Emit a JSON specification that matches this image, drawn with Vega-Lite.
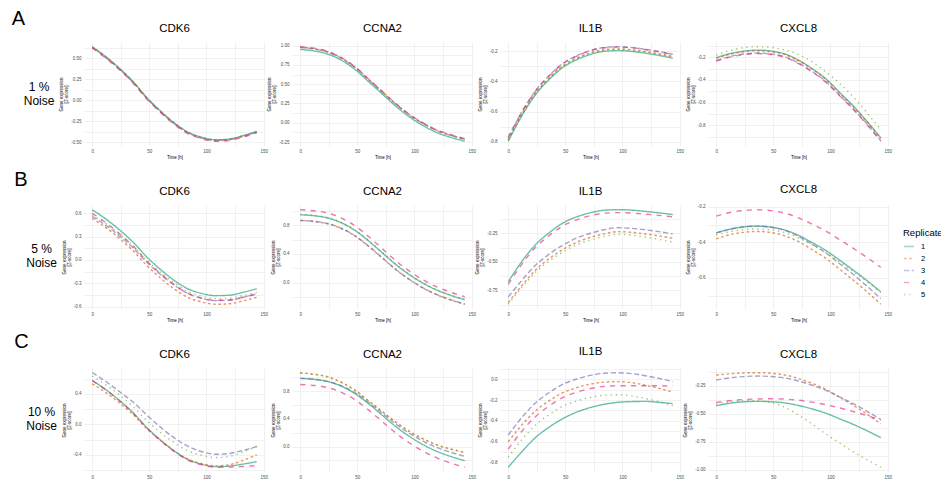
{
  "$schema": "https://vega.github.io/schema/vega-lite/v6.json",
  "padding": {"left": 11, "top": 8, "right": 0, "bottom": 0},
  "background": "white",
  "config": {
    "font": "Liberation Sans",
    "view": {"stroke": null},
    "line": {"interpolate": "monotone", "strokeWidth": 1.4, "strokeOpacity": 0.65},
    "axis": {"grid": true, "gridColor": "#EBEBEB", "gridWidth": 0.7, "domain": false, "ticks": false, "tickSize": 0,
             "labelFontSize": 4.5, "labelColor": "#4D4D4D", "labelFlush": false, "labelOverlap": false,
             "titleFontSize": 4.5, "titleFontWeight": "normal", "titleColor": "#000000"},
    "axisX": {"labelPadding": 2, "titlePadding": 1.5},
    "axisY": {"labelPadding": 3, "titlePadding": 2, "titleLineHeight": 5},
    "title": {"fontSize": 11.5, "fontWeight": "normal", "color": "#000000", "baseline": "alphabetic", "offset": 8, "anchor": "middle"}
  },
  "datasets": {
    "A_CDK6": [
      {"rep":1,"t":0,"v":0.64},{"rep":1,"t":12,"v":0.52},{"rep":1,"t":24,"v":0.38},{"rep":1,"t":36,"v":0.22},{"rep":1,"t":48,"v":0.03},{"rep":1,"t":60,"v":-0.13},{"rep":1,"t":72,"v":-0.27},{"rep":1,"t":84,"v":-0.38},{"rep":1,"t":96,"v":-0.44},{"rep":1,"t":108,"v":-0.47},{"rep":1,"t":120,"v":-0.46},{"rep":1,"t":132,"v":-0.42},{"rep":1,"t":144,"v":-0.37},
      {"rep":2,"t":0,"v":0.635},{"rep":2,"t":12,"v":0.515},{"rep":2,"t":24,"v":0.375},{"rep":2,"t":36,"v":0.215},{"rep":2,"t":48,"v":0.025},{"rep":2,"t":60,"v":-0.135},{"rep":2,"t":72,"v":-0.275},{"rep":2,"t":84,"v":-0.385},{"rep":2,"t":96,"v":-0.445},{"rep":2,"t":108,"v":-0.475},{"rep":2,"t":120,"v":-0.465},{"rep":2,"t":132,"v":-0.425},{"rep":2,"t":144,"v":-0.375},
      {"rep":3,"t":0,"v":0.63},{"rep":3,"t":12,"v":0.51},{"rep":3,"t":24,"v":0.37},{"rep":3,"t":36,"v":0.21},{"rep":3,"t":48,"v":0.02},{"rep":3,"t":60,"v":-0.14},{"rep":3,"t":72,"v":-0.28},{"rep":3,"t":84,"v":-0.39},{"rep":3,"t":96,"v":-0.45},{"rep":3,"t":108,"v":-0.48},{"rep":3,"t":120,"v":-0.47},{"rep":3,"t":132,"v":-0.43},{"rep":3,"t":144,"v":-0.38},
      {"rep":4,"t":0,"v":0.625},{"rep":4,"t":12,"v":0.502},{"rep":4,"t":24,"v":0.362},{"rep":4,"t":36,"v":0.202},{"rep":4,"t":48,"v":0.012},{"rep":4,"t":60,"v":-0.148},{"rep":4,"t":72,"v":-0.288},{"rep":4,"t":84,"v":-0.398},{"rep":4,"t":96,"v":-0.458},{"rep":4,"t":108,"v":-0.488},{"rep":4,"t":120,"v":-0.478},{"rep":4,"t":132,"v":-0.438},{"rep":4,"t":144,"v":-0.388},
      {"rep":5,"t":0,"v":0.637},{"rep":5,"t":12,"v":0.517},{"rep":5,"t":24,"v":0.377},{"rep":5,"t":36,"v":0.217},{"rep":5,"t":48,"v":0.027},{"rep":5,"t":60,"v":-0.133},{"rep":5,"t":72,"v":-0.273},{"rep":5,"t":84,"v":-0.383},{"rep":5,"t":96,"v":-0.443},{"rep":5,"t":108,"v":-0.473},{"rep":5,"t":120,"v":-0.463},{"rep":5,"t":132,"v":-0.423},{"rep":5,"t":144,"v":-0.373}
    ],
    "A_CCNA2": [
      {"rep":1,"t":0,"v":0.95},{"rep":1,"t":12,"v":0.93},{"rep":1,"t":24,"v":0.89},{"rep":1,"t":36,"v":0.81},{"rep":1,"t":48,"v":0.69},{"rep":1,"t":60,"v":0.53},{"rep":1,"t":72,"v":0.37},{"rep":1,"t":84,"v":0.21},{"rep":1,"t":96,"v":0.07},{"rep":1,"t":108,"v":-0.04},{"rep":1,"t":120,"v":-0.13},{"rep":1,"t":132,"v":-0.19},{"rep":1,"t":144,"v":-0.24},
      {"rep":2,"t":0,"v":0.98},{"rep":2,"t":12,"v":0.96},{"rep":2,"t":24,"v":0.92},{"rep":2,"t":36,"v":0.84},{"rep":2,"t":48,"v":0.72},{"rep":2,"t":60,"v":0.56},{"rep":2,"t":72,"v":0.4},{"rep":2,"t":84,"v":0.24},{"rep":2,"t":96,"v":0.1},{"rep":2,"t":108,"v":-0.01},{"rep":2,"t":120,"v":-0.1},{"rep":2,"t":132,"v":-0.16},{"rep":2,"t":144,"v":-0.21},
      {"rep":3,"t":0,"v":0.975},{"rep":3,"t":12,"v":0.955},{"rep":3,"t":24,"v":0.915},{"rep":3,"t":36,"v":0.835},{"rep":3,"t":48,"v":0.715},{"rep":3,"t":60,"v":0.555},{"rep":3,"t":72,"v":0.395},{"rep":3,"t":84,"v":0.235},{"rep":3,"t":96,"v":0.095},{"rep":3,"t":108,"v":-0.015},{"rep":3,"t":120,"v":-0.105},{"rep":3,"t":132,"v":-0.165},{"rep":3,"t":144,"v":-0.215},
      {"rep":4,"t":0,"v":0.985},{"rep":4,"t":12,"v":0.965},{"rep":4,"t":24,"v":0.925},{"rep":4,"t":36,"v":0.845},{"rep":4,"t":48,"v":0.725},{"rep":4,"t":60,"v":0.565},{"rep":4,"t":72,"v":0.405},{"rep":4,"t":84,"v":0.245},{"rep":4,"t":96,"v":0.105},{"rep":4,"t":108,"v":-0.005},{"rep":4,"t":120,"v":-0.095},{"rep":4,"t":132,"v":-0.155},{"rep":4,"t":144,"v":-0.205},
      {"rep":5,"t":0,"v":0.978},{"rep":5,"t":12,"v":0.958},{"rep":5,"t":24,"v":0.918},{"rep":5,"t":36,"v":0.838},{"rep":5,"t":48,"v":0.718},{"rep":5,"t":60,"v":0.558},{"rep":5,"t":72,"v":0.398},{"rep":5,"t":84,"v":0.238},{"rep":5,"t":96,"v":0.098},{"rep":5,"t":108,"v":-0.012},{"rep":5,"t":120,"v":-0.102},{"rep":5,"t":132,"v":-0.162},{"rep":5,"t":144,"v":-0.212}
    ],
    "A_IL1B": [
      {"rep":1,"t":0,"v":-0.796},{"rep":1,"t":12,"v":-0.626},{"rep":1,"t":24,"v":-0.486},{"rep":1,"t":36,"v":-0.386},{"rep":1,"t":48,"v":-0.306},{"rep":1,"t":60,"v":-0.256},{"rep":1,"t":72,"v":-0.221},{"rep":1,"t":84,"v":-0.201},{"rep":1,"t":96,"v":-0.196},{"rep":1,"t":108,"v":-0.201},{"rep":1,"t":120,"v":-0.213},{"rep":1,"t":132,"v":-0.228},{"rep":1,"t":144,"v":-0.246},
      {"rep":2,"t":0,"v":-0.785},{"rep":2,"t":12,"v":-0.615},{"rep":2,"t":24,"v":-0.475},{"rep":2,"t":36,"v":-0.375},{"rep":2,"t":48,"v":-0.295},{"rep":2,"t":60,"v":-0.245},{"rep":2,"t":72,"v":-0.21},{"rep":2,"t":84,"v":-0.19},{"rep":2,"t":96,"v":-0.185},{"rep":2,"t":108,"v":-0.19},{"rep":2,"t":120,"v":-0.202},{"rep":2,"t":132,"v":-0.217},{"rep":2,"t":144,"v":-0.235},
      {"rep":3,"t":0,"v":-0.77},{"rep":3,"t":12,"v":-0.6},{"rep":3,"t":24,"v":-0.46},{"rep":3,"t":36,"v":-0.36},{"rep":3,"t":48,"v":-0.28},{"rep":3,"t":60,"v":-0.23},{"rep":3,"t":72,"v":-0.195},{"rep":3,"t":84,"v":-0.175},{"rep":3,"t":96,"v":-0.17},{"rep":3,"t":108,"v":-0.175},{"rep":3,"t":120,"v":-0.187},{"rep":3,"t":132,"v":-0.202},{"rep":3,"t":144,"v":-0.22},
      {"rep":4,"t":0,"v":-0.772},{"rep":4,"t":12,"v":-0.602},{"rep":4,"t":24,"v":-0.462},{"rep":4,"t":36,"v":-0.362},{"rep":4,"t":48,"v":-0.282},{"rep":4,"t":60,"v":-0.232},{"rep":4,"t":72,"v":-0.197},{"rep":4,"t":84,"v":-0.177},{"rep":4,"t":96,"v":-0.172},{"rep":4,"t":108,"v":-0.177},{"rep":4,"t":120,"v":-0.189},{"rep":4,"t":132,"v":-0.204},{"rep":4,"t":144,"v":-0.222},
      {"rep":5,"t":0,"v":-0.788},{"rep":5,"t":12,"v":-0.618},{"rep":5,"t":24,"v":-0.478},{"rep":5,"t":36,"v":-0.378},{"rep":5,"t":48,"v":-0.298},{"rep":5,"t":60,"v":-0.248},{"rep":5,"t":72,"v":-0.213},{"rep":5,"t":84,"v":-0.193},{"rep":5,"t":96,"v":-0.188},{"rep":5,"t":108,"v":-0.193},{"rep":5,"t":120,"v":-0.205},{"rep":5,"t":132,"v":-0.22},{"rep":5,"t":144,"v":-0.238}
    ],
    "A_CXCL8": [
      {"rep":1,"t":0,"v":-0.203},{"rep":1,"t":12,"v":-0.168},{"rep":1,"t":24,"v":-0.146},{"rep":1,"t":36,"v":-0.137},{"rep":1,"t":48,"v":-0.145},{"rep":1,"t":60,"v":-0.17},{"rep":1,"t":72,"v":-0.225},{"rep":1,"t":84,"v":-0.3},{"rep":1,"t":96,"v":-0.39},{"rep":1,"t":108,"v":-0.51},{"rep":1,"t":120,"v":-0.63},{"rep":1,"t":132,"v":-0.765},{"rep":1,"t":144,"v":-0.91},
      {"rep":2,"t":0,"v":-0.208},{"rep":2,"t":12,"v":-0.173},{"rep":2,"t":24,"v":-0.151},{"rep":2,"t":36,"v":-0.142},{"rep":2,"t":48,"v":-0.15},{"rep":2,"t":60,"v":-0.175},{"rep":2,"t":72,"v":-0.23},{"rep":2,"t":84,"v":-0.305},{"rep":2,"t":96,"v":-0.395},{"rep":2,"t":108,"v":-0.515},{"rep":2,"t":120,"v":-0.635},{"rep":2,"t":132,"v":-0.77},{"rep":2,"t":144,"v":-0.915},
      {"rep":3,"t":0,"v":-0.228},{"rep":3,"t":12,"v":-0.193},{"rep":3,"t":24,"v":-0.171},{"rep":3,"t":36,"v":-0.162},{"rep":3,"t":48,"v":-0.17},{"rep":3,"t":60,"v":-0.195},{"rep":3,"t":72,"v":-0.25},{"rep":3,"t":84,"v":-0.325},{"rep":3,"t":96,"v":-0.415},{"rep":3,"t":108,"v":-0.535},{"rep":3,"t":120,"v":-0.655},{"rep":3,"t":132,"v":-0.79},{"rep":3,"t":144,"v":-0.935},
      {"rep":4,"t":0,"v":-0.233},{"rep":4,"t":12,"v":-0.198},{"rep":4,"t":24,"v":-0.176},{"rep":4,"t":36,"v":-0.167},{"rep":4,"t":48,"v":-0.175},{"rep":4,"t":60,"v":-0.2},{"rep":4,"t":72,"v":-0.255},{"rep":4,"t":84,"v":-0.33},{"rep":4,"t":96,"v":-0.42},{"rep":4,"t":108,"v":-0.54},{"rep":4,"t":120,"v":-0.66},{"rep":4,"t":132,"v":-0.795},{"rep":4,"t":144,"v":-0.94},
      {"rep":5,"t":0,"v":-0.18},{"rep":5,"t":12,"v":-0.14},{"rep":5,"t":24,"v":-0.115},{"rep":5,"t":36,"v":-0.107},{"rep":5,"t":48,"v":-0.113},{"rep":5,"t":60,"v":-0.135},{"rep":5,"t":72,"v":-0.175},{"rep":5,"t":84,"v":-0.24},{"rep":5,"t":96,"v":-0.33},{"rep":5,"t":108,"v":-0.43},{"rep":5,"t":120,"v":-0.55},{"rep":5,"t":132,"v":-0.69},{"rep":5,"t":144,"v":-0.838}
    ],
    "B_CDK6": [
      {"rep":1,"t":0,"v":0.645},{"rep":1,"t":12,"v":0.525},{"rep":1,"t":24,"v":0.385},{"rep":1,"t":36,"v":0.225},{"rep":1,"t":48,"v":0.035},{"rep":1,"t":60,"v":-0.125},{"rep":1,"t":72,"v":-0.265},{"rep":1,"t":84,"v":-0.372},{"rep":1,"t":96,"v":-0.43},{"rep":1,"t":108,"v":-0.458},{"rep":1,"t":120,"v":-0.452},{"rep":1,"t":132,"v":-0.415},{"rep":1,"t":144,"v":-0.37},
      {"rep":2,"t":0,"v":0.535},{"rep":2,"t":12,"v":0.415},{"rep":2,"t":24,"v":0.275},{"rep":2,"t":36,"v":0.115},{"rep":2,"t":48,"v":-0.075},{"rep":2,"t":60,"v":-0.235},{"rep":2,"t":72,"v":-0.375},{"rep":2,"t":84,"v":-0.482},{"rep":2,"t":96,"v":-0.54},{"rep":2,"t":108,"v":-0.568},{"rep":2,"t":120,"v":-0.562},{"rep":2,"t":132,"v":-0.525},{"rep":2,"t":144,"v":-0.48},
      {"rep":3,"t":0,"v":0.56},{"rep":3,"t":12,"v":0.444},{"rep":3,"t":24,"v":0.308},{"rep":3,"t":36,"v":0.152},{"rep":3,"t":48,"v":-0.033},{"rep":3,"t":60,"v":-0.189},{"rep":3,"t":72,"v":-0.325},{"rep":3,"t":84,"v":-0.433},{"rep":3,"t":96,"v":-0.492},{"rep":3,"t":108,"v":-0.521},{"rep":3,"t":120,"v":-0.515},{"rep":3,"t":132,"v":-0.479},{"rep":3,"t":144,"v":-0.435},
      {"rep":4,"t":0,"v":0.6},{"rep":4,"t":12,"v":0.478},{"rep":4,"t":24,"v":0.337},{"rep":4,"t":36,"v":0.175},{"rep":4,"t":48,"v":-0.017},{"rep":4,"t":60,"v":-0.178},{"rep":4,"t":72,"v":-0.32},{"rep":4,"t":84,"v":-0.429},{"rep":4,"t":96,"v":-0.489},{"rep":4,"t":108,"v":-0.519},{"rep":4,"t":120,"v":-0.514},{"rep":4,"t":132,"v":-0.478},{"rep":4,"t":144,"v":-0.435},
      {"rep":5,"t":0,"v":0.58},{"rep":5,"t":12,"v":0.466},{"rep":5,"t":24,"v":0.332},{"rep":5,"t":36,"v":0.177},{"rep":5,"t":48,"v":-0.007},{"rep":5,"t":60,"v":-0.161},{"rep":5,"t":72,"v":-0.295},{"rep":5,"t":84,"v":-0.405},{"rep":5,"t":96,"v":-0.465},{"rep":5,"t":108,"v":-0.496},{"rep":5,"t":120,"v":-0.492},{"rep":5,"t":132,"v":-0.458},{"rep":5,"t":144,"v":-0.415}
    ],
    "B_CCNA2": [
      {"rep":1,"t":0,"v":0.947},{"rep":1,"t":12,"v":0.933},{"rep":1,"t":24,"v":0.902},{"rep":1,"t":36,"v":0.834},{"rep":1,"t":48,"v":0.727},{"rep":1,"t":60,"v":0.579},{"rep":1,"t":72,"v":0.413},{"rep":1,"t":84,"v":0.247},{"rep":1,"t":96,"v":0.104},{"rep":1,"t":108,"v":-0.014},{"rep":1,"t":120,"v":-0.109},{"rep":1,"t":132,"v":-0.181},{"rep":1,"t":144,"v":-0.24},
      {"rep":2,"t":0,"v":0.865},{"rep":2,"t":12,"v":0.851},{"rep":2,"t":24,"v":0.821},{"rep":2,"t":36,"v":0.754},{"rep":2,"t":48,"v":0.649},{"rep":2,"t":60,"v":0.503},{"rep":2,"t":72,"v":0.339},{"rep":2,"t":84,"v":0.175},{"rep":2,"t":96,"v":0.035},{"rep":2,"t":108,"v":-0.082},{"rep":2,"t":120,"v":-0.175},{"rep":2,"t":132,"v":-0.246},{"rep":2,"t":144,"v":-0.304},
      {"rep":3,"t":0,"v":0.869},{"rep":3,"t":12,"v":0.855},{"rep":3,"t":24,"v":0.825},{"rep":3,"t":36,"v":0.758},{"rep":3,"t":48,"v":0.653},{"rep":3,"t":60,"v":0.507},{"rep":3,"t":72,"v":0.343},{"rep":3,"t":84,"v":0.179},{"rep":3,"t":96,"v":0.039},{"rep":3,"t":108,"v":-0.078},{"rep":3,"t":120,"v":-0.171},{"rep":3,"t":132,"v":-0.242},{"rep":3,"t":144,"v":-0.3},
      {"rep":4,"t":0,"v":1.017},{"rep":4,"t":12,"v":1.002},{"rep":4,"t":24,"v":0.971},{"rep":4,"t":36,"v":0.901},{"rep":4,"t":48,"v":0.792},{"rep":4,"t":60,"v":0.64},{"rep":4,"t":72,"v":0.47},{"rep":4,"t":84,"v":0.3},{"rep":4,"t":96,"v":0.154},{"rep":4,"t":108,"v":0.032},{"rep":4,"t":120,"v":-0.065},{"rep":4,"t":132,"v":-0.138},{"rep":4,"t":144,"v":-0.199},
      {"rep":5,"t":0,"v":0.952},{"rep":5,"t":12,"v":0.938},{"rep":5,"t":24,"v":0.907},{"rep":5,"t":36,"v":0.839},{"rep":5,"t":48,"v":0.732},{"rep":5,"t":60,"v":0.584},{"rep":5,"t":72,"v":0.418},{"rep":5,"t":84,"v":0.252},{"rep":5,"t":96,"v":0.109},{"rep":5,"t":108,"v":-0.009},{"rep":5,"t":120,"v":-0.104},{"rep":5,"t":132,"v":-0.176},{"rep":5,"t":144,"v":-0.235}
    ],
    "B_IL1B": [
      {"rep":1,"t":0,"v":-0.675},{"rep":1,"t":12,"v":-0.496},{"rep":1,"t":24,"v":-0.348},{"rep":1,"t":36,"v":-0.243},{"rep":1,"t":48,"v":-0.158},{"rep":1,"t":60,"v":-0.105},{"rep":1,"t":72,"v":-0.069},{"rep":1,"t":84,"v":-0.047},{"rep":1,"t":96,"v":-0.042},{"rep":1,"t":108,"v":-0.046},{"rep":1,"t":120,"v":-0.057},{"rep":1,"t":132,"v":-0.07},{"rep":1,"t":144,"v":-0.085},
      {"rep":2,"t":0,"v":-0.857},{"rep":2,"t":12,"v":-0.708},{"rep":2,"t":24,"v":-0.571},{"rep":2,"t":36,"v":-0.471},{"rep":2,"t":48,"v":-0.39},{"rep":2,"t":60,"v":-0.328},{"rep":2,"t":72,"v":-0.285},{"rep":2,"t":84,"v":-0.254},{"rep":2,"t":96,"v":-0.235},{"rep":2,"t":108,"v":-0.241},{"rep":2,"t":120,"v":-0.255},{"rep":2,"t":132,"v":-0.272},{"rep":2,"t":144,"v":-0.293},
      {"rep":3,"t":0,"v":-0.808},{"rep":3,"t":12,"v":-0.662},{"rep":3,"t":24,"v":-0.528},{"rep":3,"t":36,"v":-0.431},{"rep":3,"t":48,"v":-0.352},{"rep":3,"t":60,"v":-0.291},{"rep":3,"t":72,"v":-0.249},{"rep":3,"t":84,"v":-0.218},{"rep":3,"t":96,"v":-0.2},{"rep":3,"t":108,"v":-0.206},{"rep":3,"t":120,"v":-0.219},{"rep":3,"t":132,"v":-0.235},{"rep":3,"t":144,"v":-0.255},
      {"rep":4,"t":0,"v":-0.698},{"rep":4,"t":12,"v":-0.52},{"rep":4,"t":24,"v":-0.372},{"rep":4,"t":36,"v":-0.268},{"rep":4,"t":48,"v":-0.183},{"rep":4,"t":60,"v":-0.131},{"rep":4,"t":72,"v":-0.094},{"rep":4,"t":84,"v":-0.073},{"rep":4,"t":96,"v":-0.068},{"rep":4,"t":108,"v":-0.072},{"rep":4,"t":120,"v":-0.081},{"rep":4,"t":132,"v":-0.092},{"rep":4,"t":144,"v":-0.105},
      {"rep":5,"t":0,"v":-0.872},{"rep":5,"t":12,"v":-0.725},{"rep":5,"t":24,"v":-0.59},{"rep":5,"t":36,"v":-0.492},{"rep":5,"t":48,"v":-0.412},{"rep":5,"t":60,"v":-0.351},{"rep":5,"t":72,"v":-0.308},{"rep":5,"t":84,"v":-0.277},{"rep":5,"t":96,"v":-0.259},{"rep":5,"t":108,"v":-0.266},{"rep":5,"t":120,"v":-0.282},{"rep":5,"t":132,"v":-0.303},{"rep":5,"t":144,"v":-0.328}
    ],
    "B_CXCL8": [
      {"rep":1,"t":0,"v":-0.347},{"rep":1,"t":12,"v":-0.326},{"rep":1,"t":24,"v":-0.313},{"rep":1,"t":36,"v":-0.309},{"rep":1,"t":48,"v":-0.315},{"rep":1,"t":60,"v":-0.331},{"rep":1,"t":72,"v":-0.361},{"rep":1,"t":84,"v":-0.402},{"rep":1,"t":96,"v":-0.446},{"rep":1,"t":108,"v":-0.501},{"rep":1,"t":120,"v":-0.557},{"rep":1,"t":132,"v":-0.616},{"rep":1,"t":144,"v":-0.679},
      {"rep":2,"t":0,"v":-0.381},{"rep":2,"t":12,"v":-0.357},{"rep":2,"t":24,"v":-0.344},{"rep":2,"t":36,"v":-0.339},{"rep":2,"t":48,"v":-0.345},{"rep":2,"t":60,"v":-0.364},{"rep":2,"t":72,"v":-0.396},{"rep":2,"t":84,"v":-0.442},{"rep":2,"t":96,"v":-0.491},{"rep":2,"t":108,"v":-0.552},{"rep":2,"t":120,"v":-0.614},{"rep":2,"t":132,"v":-0.679},{"rep":2,"t":144,"v":-0.749},
      {"rep":3,"t":0,"v":-0.347},{"rep":3,"t":12,"v":-0.327},{"rep":3,"t":24,"v":-0.314},{"rep":3,"t":36,"v":-0.309},{"rep":3,"t":48,"v":-0.315},{"rep":3,"t":60,"v":-0.333},{"rep":3,"t":72,"v":-0.366},{"rep":3,"t":84,"v":-0.411},{"rep":3,"t":96,"v":-0.46},{"rep":3,"t":108,"v":-0.521},{"rep":3,"t":120,"v":-0.582},{"rep":3,"t":132,"v":-0.648},{"rep":3,"t":144,"v":-0.717},
      {"rep":4,"t":0,"v":-0.253},{"rep":4,"t":12,"v":-0.232},{"rep":4,"t":24,"v":-0.221},{"rep":4,"t":36,"v":-0.217},{"rep":4,"t":48,"v":-0.222},{"rep":4,"t":60,"v":-0.236},{"rep":4,"t":72,"v":-0.262},{"rep":4,"t":84,"v":-0.298},{"rep":4,"t":96,"v":-0.337},{"rep":4,"t":108,"v":-0.385},{"rep":4,"t":120,"v":-0.434},{"rep":4,"t":132,"v":-0.486},{"rep":4,"t":144,"v":-0.541},
      {"rep":5,"t":0,"v":-0.358},{"rep":5,"t":12,"v":-0.341},{"rep":5,"t":24,"v":-0.329},{"rep":5,"t":36,"v":-0.325},{"rep":5,"t":48,"v":-0.33},{"rep":5,"t":60,"v":-0.346},{"rep":5,"t":72,"v":-0.375},{"rep":5,"t":84,"v":-0.415},{"rep":5,"t":96,"v":-0.457},{"rep":5,"t":108,"v":-0.511},{"rep":5,"t":120,"v":-0.565},{"rep":5,"t":132,"v":-0.622},{"rep":5,"t":144,"v":-0.683}
    ],
    "C_CDK6": [
      {"rep":1,"t":0,"v":0.579},{"rep":1,"t":12,"v":0.456},{"rep":1,"t":24,"v":0.313},{"rep":1,"t":36,"v":0.15},{"rep":1,"t":48,"v":-0.045},{"rep":1,"t":60,"v":-0.209},{"rep":1,"t":72,"v":-0.352},{"rep":1,"t":84,"v":-0.464},{"rep":1,"t":96,"v":-0.525},{"rep":1,"t":108,"v":-0.556},{"rep":1,"t":120,"v":-0.549},{"rep":1,"t":132,"v":-0.523},{"rep":1,"t":144,"v":-0.49},
      {"rep":2,"t":0,"v":0.534},{"rep":2,"t":12,"v":0.417},{"rep":2,"t":24,"v":0.281},{"rep":2,"t":36,"v":0.125},{"rep":2,"t":48,"v":-0.061},{"rep":2,"t":60,"v":-0.216},{"rep":2,"t":72,"v":-0.352},{"rep":2,"t":84,"v":-0.459},{"rep":2,"t":96,"v":-0.518},{"rep":2,"t":108,"v":-0.547},{"rep":2,"t":120,"v":-0.532},{"rep":2,"t":132,"v":-0.474},{"rep":2,"t":144,"v":-0.401},
      {"rep":3,"t":0,"v":0.68},{"rep":3,"t":12,"v":0.564},{"rep":3,"t":24,"v":0.429},{"rep":3,"t":36,"v":0.29},{"rep":3,"t":48,"v":0.12},{"rep":3,"t":60,"v":-0.04},{"rep":3,"t":72,"v":-0.18},{"rep":3,"t":84,"v":-0.29},{"rep":3,"t":96,"v":-0.36},{"rep":3,"t":108,"v":-0.393},{"rep":3,"t":120,"v":-0.383},{"rep":3,"t":132,"v":-0.342},{"rep":3,"t":144,"v":-0.291},
      {"rep":4,"t":0,"v":0.575},{"rep":4,"t":12,"v":0.452},{"rep":4,"t":24,"v":0.308},{"rep":4,"t":36,"v":0.144},{"rep":4,"t":48,"v":-0.052},{"rep":4,"t":60,"v":-0.216},{"rep":4,"t":72,"v":-0.36},{"rep":4,"t":84,"v":-0.473},{"rep":4,"t":96,"v":-0.534},{"rep":4,"t":108,"v":-0.565},{"rep":4,"t":120,"v":-0.563},{"rep":4,"t":132,"v":-0.554},{"rep":4,"t":144,"v":-0.543},
      {"rep":5,"t":0,"v":0.636},{"rep":5,"t":12,"v":0.52},{"rep":5,"t":24,"v":0.385},{"rep":5,"t":36,"v":0.23},{"rep":5,"t":48,"v":0.046},{"rep":5,"t":60,"v":-0.109},{"rep":5,"t":72,"v":-0.244},{"rep":5,"t":84,"v":-0.35},{"rep":5,"t":96,"v":-0.408},{"rep":5,"t":108,"v":-0.437},{"rep":5,"t":120,"v":-0.422},{"rep":5,"t":132,"v":-0.364},{"rep":5,"t":144,"v":-0.29}
    ],
    "C_CCNA2": [
      {"rep":1,"t":0,"v":0.984},{"rep":1,"t":12,"v":0.97},{"rep":1,"t":24,"v":0.939},{"rep":1,"t":36,"v":0.871},{"rep":1,"t":48,"v":0.764},{"rep":1,"t":60,"v":0.616},{"rep":1,"t":72,"v":0.449},{"rep":1,"t":84,"v":0.283},{"rep":1,"t":96,"v":0.141},{"rep":1,"t":108,"v":0.022},{"rep":1,"t":120,"v":-0.073},{"rep":1,"t":132,"v":-0.145},{"rep":1,"t":144,"v":-0.204},
      {"rep":2,"t":0,"v":1.062},{"rep":2,"t":12,"v":1.042},{"rep":2,"t":24,"v":1.005},{"rep":2,"t":36,"v":0.926},{"rep":2,"t":48,"v":0.812},{"rep":2,"t":60,"v":0.656},{"rep":2,"t":72,"v":0.502},{"rep":2,"t":84,"v":0.347},{"rep":2,"t":96,"v":0.213},{"rep":2,"t":108,"v":0.106},{"rep":2,"t":120,"v":0.019},{"rep":2,"t":132,"v":-0.039},{"rep":2,"t":144,"v":-0.087},
      {"rep":3,"t":0,"v":0.984},{"rep":3,"t":12,"v":0.971},{"rep":3,"t":24,"v":0.941},{"rep":3,"t":36,"v":0.877},{"rep":3,"t":48,"v":0.776},{"rep":3,"t":60,"v":0.635},{"rep":3,"t":72,"v":0.478},{"rep":3,"t":84,"v":0.32},{"rep":3,"t":96,"v":0.185},{"rep":3,"t":108,"v":0.073},{"rep":3,"t":120,"v":-0.017},{"rep":3,"t":132,"v":-0.085},{"rep":3,"t":144,"v":-0.141},
      {"rep":4,"t":0,"v":0.896},{"rep":4,"t":12,"v":0.882},{"rep":4,"t":24,"v":0.851},{"rep":4,"t":36,"v":0.782},{"rep":4,"t":48,"v":0.675},{"rep":4,"t":60,"v":0.525},{"rep":4,"t":72,"v":0.358},{"rep":4,"t":84,"v":0.19},{"rep":4,"t":96,"v":0.047},{"rep":4,"t":108,"v":-0.073},{"rep":4,"t":120,"v":-0.168},{"rep":4,"t":132,"v":-0.24},{"rep":4,"t":144,"v":-0.3},
      {"rep":5,"t":0,"v":1.066},{"rep":5,"t":12,"v":1.046},{"rep":5,"t":24,"v":1.009},{"rep":5,"t":36,"v":0.93},{"rep":5,"t":48,"v":0.816},{"rep":5,"t":60,"v":0.66},{"rep":5,"t":72,"v":0.506},{"rep":5,"t":84,"v":0.351},{"rep":5,"t":96,"v":0.217},{"rep":5,"t":108,"v":0.11},{"rep":5,"t":120,"v":0.023},{"rep":5,"t":132,"v":-0.035},{"rep":5,"t":144,"v":-0.083}
    ],
    "C_IL1B": [
      {"rep":1,"t":0,"v":-0.848},{"rep":1,"t":12,"v":-0.698},{"rep":1,"t":24,"v":-0.56},{"rep":1,"t":36,"v":-0.46},{"rep":1,"t":48,"v":-0.378},{"rep":1,"t":60,"v":-0.316},{"rep":1,"t":72,"v":-0.272},{"rep":1,"t":84,"v":-0.241},{"rep":1,"t":96,"v":-0.222},{"rep":1,"t":108,"v":-0.215},{"rep":1,"t":120,"v":-0.213},{"rep":1,"t":132,"v":-0.222},{"rep":1,"t":144,"v":-0.235},
      {"rep":2,"t":0,"v":-0.603},{"rep":2,"t":12,"v":-0.439},{"rep":2,"t":24,"v":-0.303},{"rep":2,"t":36,"v":-0.206},{"rep":2,"t":48,"v":-0.128},{"rep":2,"t":60,"v":-0.08},{"rep":2,"t":72,"v":-0.046},{"rep":2,"t":84,"v":-0.027},{"rep":2,"t":96,"v":-0.022},{"rep":2,"t":108,"v":-0.032},{"rep":2,"t":120,"v":-0.057},{"rep":2,"t":132,"v":-0.087},{"rep":2,"t":144,"v":-0.124},
      {"rep":3,"t":0,"v":-0.537},{"rep":3,"t":12,"v":-0.367},{"rep":3,"t":24,"v":-0.227},{"rep":3,"t":36,"v":-0.127},{"rep":3,"t":48,"v":-0.047},{"rep":3,"t":60,"v":0.003},{"rep":3,"t":72,"v":0.038},{"rep":3,"t":84,"v":0.058},{"rep":3,"t":96,"v":0.063},{"rep":3,"t":108,"v":0.055},{"rep":3,"t":120,"v":0.034},{"rep":3,"t":132,"v":0.009},{"rep":3,"t":144,"v":-0.022},
      {"rep":4,"t":0,"v":-0.673},{"rep":4,"t":12,"v":-0.5},{"rep":4,"t":24,"v":-0.358},{"rep":4,"t":36,"v":-0.256},{"rep":4,"t":48,"v":-0.175},{"rep":4,"t":60,"v":-0.124},{"rep":4,"t":72,"v":-0.089},{"rep":4,"t":84,"v":-0.068},{"rep":4,"t":96,"v":-0.063},{"rep":4,"t":108,"v":-0.062},{"rep":4,"t":120,"v":-0.062},{"rep":4,"t":132,"v":-0.063},{"rep":4,"t":144,"v":-0.065},
      {"rep":5,"t":0,"v":-0.752},{"rep":5,"t":12,"v":-0.581},{"rep":5,"t":24,"v":-0.44},{"rep":5,"t":36,"v":-0.34},{"rep":5,"t":48,"v":-0.259},{"rep":5,"t":60,"v":-0.209},{"rep":5,"t":72,"v":-0.174},{"rep":5,"t":84,"v":-0.154},{"rep":5,"t":96,"v":-0.149},{"rep":5,"t":108,"v":-0.16},{"rep":5,"t":120,"v":-0.185},{"rep":5,"t":132,"v":-0.216},{"rep":5,"t":144,"v":-0.254}
    ],
    "C_CXCL8": [
      {"rep":1,"t":0,"v":-0.427},{"rep":1,"t":12,"v":-0.405},{"rep":1,"t":24,"v":-0.392},{"rep":1,"t":36,"v":-0.388},{"rep":1,"t":48,"v":-0.391},{"rep":1,"t":60,"v":-0.402},{"rep":1,"t":72,"v":-0.425},{"rep":1,"t":84,"v":-0.456},{"rep":1,"t":96,"v":-0.494},{"rep":1,"t":108,"v":-0.544},{"rep":1,"t":120,"v":-0.594},{"rep":1,"t":132,"v":-0.651},{"rep":1,"t":144,"v":-0.712},
      {"rep":2,"t":0,"v":-0.153},{"rep":2,"t":12,"v":-0.142},{"rep":2,"t":24,"v":-0.134},{"rep":2,"t":36,"v":-0.132},{"rep":2,"t":48,"v":-0.137},{"rep":2,"t":60,"v":-0.152},{"rep":2,"t":72,"v":-0.184},{"rep":2,"t":84,"v":-0.228},{"rep":2,"t":96,"v":-0.281},{"rep":2,"t":108,"v":-0.352},{"rep":2,"t":120,"v":-0.423},{"rep":2,"t":132,"v":-0.503},{"rep":2,"t":144,"v":-0.589},
      {"rep":3,"t":0,"v":-0.197},{"rep":3,"t":12,"v":-0.178},{"rep":3,"t":24,"v":-0.167},{"rep":3,"t":36,"v":-0.162},{"rep":3,"t":48,"v":-0.166},{"rep":3,"t":60,"v":-0.179},{"rep":3,"t":72,"v":-0.206},{"rep":3,"t":84,"v":-0.244},{"rep":3,"t":96,"v":-0.289},{"rep":3,"t":108,"v":-0.349},{"rep":3,"t":120,"v":-0.409},{"rep":3,"t":132,"v":-0.477},{"rep":3,"t":144,"v":-0.55},
      {"rep":4,"t":0,"v":-0.397},{"rep":4,"t":12,"v":-0.382},{"rep":4,"t":24,"v":-0.372},{"rep":4,"t":36,"v":-0.367},{"rep":4,"t":48,"v":-0.365},{"rep":4,"t":60,"v":-0.368},{"rep":4,"t":72,"v":-0.378},{"rep":4,"t":84,"v":-0.395},{"rep":4,"t":96,"v":-0.418},{"rep":4,"t":108,"v":-0.446},{"rep":4,"t":120,"v":-0.479},{"rep":4,"t":132,"v":-0.516},{"rep":4,"t":144,"v":-0.556},
      {"rep":5,"t":0,"v":-0.412},{"rep":5,"t":12,"v":-0.393},{"rep":5,"t":24,"v":-0.384},{"rep":5,"t":36,"v":-0.383},{"rep":5,"t":48,"v":-0.4},{"rep":5,"t":60,"v":-0.44},{"rep":5,"t":72,"v":-0.51},{"rep":5,"t":84,"v":-0.59},{"rep":5,"t":96,"v":-0.68},{"rep":5,"t":108,"v":-0.76},{"rep":5,"t":120,"v":-0.84},{"rep":5,"t":132,"v":-0.91},{"rep":5,"t":144,"v":-0.977}
    ]
  },
  "vconcat": [
    {
      "title": {"text": "A", "anchor": "start", "fontSize": 20, "dx": -12, "offset": -6, "frame": "bounds"},
      "bounds": "flush",
      "hconcat": [
        {
          "title": {"text": ["1 %", "Noise"], "orient": "left", "angle": 0, "align": "center", "baseline": "middle", "anchor": "middle", "frame": "bounds", "dy": -3.5, "fontSize": 12, "lineHeight": 14, "offset": -11},
          "bounds": "flush",
          "spacing": 27,
          "hconcat": [
            {"data": {"name": "A_CDK6"}, "title": "CDK6", "width": 181, "height": 104, "mark": "line",
             "encoding": {
               "x": {"field": "t", "type": "quantitative", "title": "Time [h]", "scale": {"domain": [-7.2, 151.2], "nice": false}, "axis": {"values": [0, 25, 50, 75, 100, 125, 150], "labelExpr": "datum.value % 50 ? '' : datum.label"}},
               "y": {"field": "v", "type": "quantitative", "title": ["Gene expression", "[Z-score]"], "scale": {"domain": [-0.544, 0.696], "nice": false, "zero": false}, "axis": {"values": [-0.5, -0.375, -0.25, -0.125, 0, 0.125, 0.25, 0.375, 0.5, 0.625], "labelExpr": "abs(datum.value*4 - round(datum.value*4)) < 0.01 ? replace(format(datum.value, '.2f'), '\u2212', '-') : ''"}},
               "color": {"field": "rep", "type": "nominal", "title": "Replicate",
                 "scale": {"domain": [1, 2, 3, 4, 5], "range": ["#1B9E77", "#D95F02", "#7570B3", "#E7298A", "#66A61E"]},
                 "legend": {"orient": "none", "legendX": 819, "legendY": 186, "titleFontSize": 9.5, "titleFontWeight": "normal", "titleColor": "#000000", "titlePadding": 3, "labelFontSize": 7.5, "labelColor": "#000000", "labelOffset": 6, "symbolType": "stroke", "symbolSize": 100, "symbolStrokeWidth": 1.5, "symbolOpacity": 0.65, "rowPadding": 2, "padding": 0}},
               "strokeDash": {"field": "rep", "type": "nominal", "title": "Replicate",
                 "scale": {"domain": [1, 2, 3, 4, 5], "range": [[1, 0], [2.6, 2.6], [5.2, 2.6], [5.2, 5.2], [1.3, 3.9]]},
                 "legend": {"orient": "none", "legendX": 819, "legendY": 186, "titleFontSize": 9.5, "titleFontWeight": "normal", "titleColor": "#000000", "titlePadding": 3, "labelFontSize": 7.5, "labelColor": "#000000", "labelOffset": 6, "symbolType": "stroke", "symbolSize": 100, "symbolStrokeWidth": 1.5, "symbolOpacity": 0.65, "rowPadding": 2, "padding": 0}}
             }},
            {"data": {"name": "A_CCNA2"}, "title": "CCNA2", "width": 181, "height": 104, "mark": "line",
             "encoding": {
               "x": {"field": "t", "type": "quantitative", "title": "Time [h]", "scale": {"domain": [-7.2, 151.2], "nice": false}, "axis": {"values": [0, 25, 50, 75, 100, 125, 150], "labelExpr": "datum.value % 50 ? '' : datum.label"}},
               "y": {"field": "v", "type": "quantitative", "title": ["Gene expression", "[Z-score]"], "scale": {"domain": [-0.301, 1.046], "nice": false, "zero": false}, "axis": {"values": [-0.25, -0.125, 0, 0.125, 0.25, 0.375, 0.5, 0.625, 0.75, 0.875, 1], "labelExpr": "abs(datum.value*4 - round(datum.value*4)) < 0.01 ? replace(format(datum.value, '.2f'), '\u2212', '-') : ''"}},
               "color": {"field": "rep", "type": "nominal", "title": "Replicate"},
               "strokeDash": {"field": "rep", "type": "nominal", "title": "Replicate"}
             }},
            {"data": {"name": "A_IL1B"}, "title": "IL1B", "width": 181, "height": 104, "mark": "line",
             "encoding": {
               "x": {"field": "t", "type": "quantitative", "title": "Time [h]", "scale": {"domain": [-7.2, 151.2], "nice": false}, "axis": {"values": [0, 25, 50, 75, 100, 125, 150], "labelExpr": "datum.value % 50 ? '' : datum.label"}},
               "y": {"field": "v", "type": "quantitative", "title": ["Gene expression", "[Z-score]"], "scale": {"domain": [-0.827, -0.139], "nice": false, "zero": false}, "axis": {"values": [-0.8, -0.7, -0.6, -0.5, -0.4, -0.3, -0.2], "labelExpr": "abs(datum.value*5 - round(datum.value*5)) < 0.01 ? replace(format(datum.value, '.1f'), '\u2212', '-') : ''"}},
               "color": {"field": "rep", "type": "nominal", "title": "Replicate"},
               "strokeDash": {"field": "rep", "type": "nominal", "title": "Replicate"}
             }},
            {"data": {"name": "A_CXCL8"}, "title": "CXCL8", "width": 181, "height": 104, "mark": "line",
             "encoding": {
               "x": {"field": "t", "type": "quantitative", "title": "Time [h]", "scale": {"domain": [-7.2, 151.2], "nice": false}, "axis": {"values": [0, 25, 50, 75, 100, 125, 150], "labelExpr": "datum.value % 50 ? '' : datum.label"}},
               "y": {"field": "v", "type": "quantitative", "title": ["Gene expression", "[Z-score]"], "scale": {"domain": [-0.982, -0.065], "nice": false, "zero": false}, "axis": {"values": [-0.9, -0.8, -0.7, -0.6, -0.5, -0.4, -0.3, -0.2, -0.1], "labelExpr": "abs(datum.value*5 - round(datum.value*5)) < 0.01 ? replace(format(datum.value, '.1f'), '\u2212', '-') : ''"}},
               "color": {"field": "rep", "type": "nominal", "title": "Replicate"},
               "strokeDash": {"field": "rep", "type": "nominal", "title": "Replicate"}
             }}
          ]
        }
      ]
    },
    {
      "title": {"text": "B", "anchor": "start", "fontSize": 20, "dx": -12, "offset": -6, "frame": "bounds"},
      "bounds": "flush",
      "hconcat": [
        {
          "title": {"text": ["5 %", "Noise"], "orient": "left", "angle": 0, "align": "center", "baseline": "middle", "anchor": "middle", "frame": "bounds", "dy": -3.5, "fontSize": 12, "lineHeight": 14, "offset": -11},
          "bounds": "flush",
          "spacing": 27,
          "hconcat": [
            {"data": {"name": "B_CDK6"}, "title": "CDK6", "width": 181, "height": 104, "mark": "line",
             "encoding": {
               "x": {"field": "t", "type": "quantitative", "title": "Time [h]", "scale": {"domain": [-7.2, 151.2], "nice": false}, "axis": {"values": [0, 25, 50, 75, 100, 125, 150], "labelExpr": "datum.value % 50 ? '' : datum.label"}},
               "y": {"field": "v", "type": "quantitative", "title": ["Gene expression", "[Z-score]"], "scale": {"domain": [-0.629, 0.706], "nice": false, "zero": false}, "axis": {"values": [-0.6, -0.45, -0.3, -0.15, 0, 0.15, 0.3, 0.45, 0.6], "labelExpr": "abs(datum.value*10/3 - round(datum.value*10/3)) < 0.01 ? replace(format(datum.value, '.1f'), '\u2212', '-') : ''"}},
               "color": {"field": "rep", "type": "nominal", "title": "Replicate"},
               "strokeDash": {"field": "rep", "type": "nominal", "title": "Replicate"}
             }},
            {"data": {"name": "B_CCNA2"}, "title": "CCNA2", "width": 181, "height": 104, "mark": "line",
             "encoding": {
               "x": {"field": "t", "type": "quantitative", "title": "Time [h]", "scale": {"domain": [-7.2, 151.2], "nice": false}, "axis": {"values": [0, 25, 50, 75, 100, 125, 150], "labelExpr": "datum.value % 50 ? '' : datum.label"}},
               "y": {"field": "v", "type": "quantitative", "title": ["Gene expression", "[Z-score]"], "scale": {"domain": [-0.37, 1.083], "nice": false, "zero": false}, "axis": {"values": [-0.2, 0, 0.2, 0.4, 0.6, 0.8, 1], "labelExpr": "abs(datum.value*2.5 - round(datum.value*2.5)) < 0.01 ? replace(format(datum.value, '.1f'), '\u2212', '-') : ''"}},
               "color": {"field": "rep", "type": "nominal", "title": "Replicate"},
               "strokeDash": {"field": "rep", "type": "nominal", "title": "Replicate"}
             }},
            {"data": {"name": "B_IL1B"}, "title": "IL1B", "width": 181, "height": 104, "mark": "line",
             "encoding": {
               "x": {"field": "t", "type": "quantitative", "title": "Time [h]", "scale": {"domain": [-7.2, 151.2], "nice": false}, "axis": {"values": [0, 25, 50, 75, 100, 125, 150], "labelExpr": "datum.value % 50 ? '' : datum.label"}},
               "y": {"field": "v", "type": "quantitative", "title": ["Gene expression", "[Z-score]"], "scale": {"domain": [-0.914, -0.001], "nice": false, "zero": false}, "axis": {"values": [-0.875, -0.75, -0.625, -0.5, -0.375, -0.25, -0.125], "labelExpr": "abs(datum.value*4 - round(datum.value*4)) < 0.01 ? replace(format(datum.value, '.2f'), '\u2212', '-') : ''"}},
               "color": {"field": "rep", "type": "nominal", "title": "Replicate"},
               "strokeDash": {"field": "rep", "type": "nominal", "title": "Replicate"}
             }},
            {"data": {"name": "B_CXCL8"}, "title": "CXCL8", "width": 181, "height": 104, "mark": "line",
             "encoding": {
               "x": {"field": "t", "type": "quantitative", "title": "Time [h]", "scale": {"domain": [-7.2, 151.2], "nice": false}, "axis": {"values": [0, 25, 50, 75, 100, 125, 150], "labelExpr": "datum.value % 50 ? '' : datum.label"}},
               "y": {"field": "v", "type": "quantitative", "title": ["Gene expression", "[Z-score]"], "scale": {"domain": [-0.776, -0.19], "nice": false, "zero": false}, "axis": {"values": [-0.7, -0.6, -0.5, -0.4, -0.3, -0.2], "labelExpr": "abs(datum.value*5 - round(datum.value*5)) < 0.01 ? replace(format(datum.value, '.1f'), '\u2212', '-') : ''"}},
               "color": {"field": "rep", "type": "nominal", "title": "Replicate"},
               "strokeDash": {"field": "rep", "type": "nominal", "title": "Replicate"}
             }}
          ]
        }
      ]
    },
    {
      "title": {"text": "C", "anchor": "start", "fontSize": 20, "dx": -12, "offset": -6, "frame": "bounds"},
      "bounds": "flush",
      "hconcat": [
        {
          "title": {"text": ["10 %", "Noise"], "orient": "left", "angle": 0, "align": "center", "baseline": "middle", "anchor": "middle", "frame": "bounds", "dy": -3.5, "fontSize": 12, "lineHeight": 14, "offset": -11},
          "bounds": "flush",
          "spacing": 27,
          "hconcat": [
            {"data": {"name": "C_CDK6"}, "title": "CDK6", "width": 181, "height": 104, "mark": "line",
             "encoding": {
               "x": {"field": "t", "type": "quantitative", "title": "Time [h]", "scale": {"domain": [-7.2, 151.2], "nice": false}, "axis": {"values": [0, 25, 50, 75, 100, 125, 150], "labelExpr": "datum.value % 50 ? '' : datum.label"}},
               "y": {"field": "v", "type": "quantitative", "title": ["Gene expression", "[Z-score]"], "scale": {"domain": [-0.627, 0.742], "nice": false, "zero": false}, "axis": {"values": [-0.6, -0.4, -0.2, 0, 0.2, 0.4, 0.6], "labelExpr": "abs(datum.value*2.5 - round(datum.value*2.5)) < 0.01 ? replace(format(datum.value, '.1f'), '\u2212', '-') : ''"}},
               "color": {"field": "rep", "type": "nominal", "title": "Replicate"},
               "strokeDash": {"field": "rep", "type": "nominal", "title": "Replicate"}
             }},
            {"data": {"name": "C_CCNA2"}, "title": "CCNA2", "width": 181, "height": 104, "mark": "line",
             "encoding": {
               "x": {"field": "t", "type": "quantitative", "title": "Time [h]", "scale": {"domain": [-7.2, 151.2], "nice": false}, "axis": {"values": [0, 25, 50, 75, 100, 125, 150], "labelExpr": "datum.value % 50 ? '' : datum.label"}},
               "y": {"field": "v", "type": "quantitative", "title": ["Gene expression", "[Z-score]"], "scale": {"domain": [-0.368, 1.134], "nice": false, "zero": false}, "axis": {"values": [-0.2, 0, 0.2, 0.4, 0.6, 0.8, 1], "labelExpr": "abs(datum.value*2.5 - round(datum.value*2.5)) < 0.01 ? replace(format(datum.value, '.1f'), '\u2212', '-') : ''"}},
               "color": {"field": "rep", "type": "nominal", "title": "Replicate"},
               "strokeDash": {"field": "rep", "type": "nominal", "title": "Replicate"}
             }},
            {"data": {"name": "C_IL1B"}, "title": "IL1B", "width": 181, "height": 104, "mark": "line",
             "encoding": {
               "x": {"field": "t", "type": "quantitative", "title": "Time [h]", "scale": {"domain": [-7.2, 151.2], "nice": false}, "axis": {"values": [0, 25, 50, 75, 100, 125, 150], "labelExpr": "datum.value % 50 ? '' : datum.label"}},
               "y": {"field": "v", "type": "quantitative", "title": ["Gene expression", "[Z-score]"], "scale": {"domain": [-0.894, 0.109], "nice": false, "zero": false}, "axis": {"values": [-0.8, -0.7, -0.6, -0.5, -0.4, -0.3, -0.2, -0.1, 0, 0.1], "labelExpr": "abs(datum.value*5 - round(datum.value*5)) < 0.01 ? replace(format(datum.value, '.1f'), '\u2212', '-') : ''"}},
               "color": {"field": "rep", "type": "nominal", "title": "Replicate"},
               "strokeDash": {"field": "rep", "type": "nominal", "title": "Replicate"}
             }},
            {"data": {"name": "C_CXCL8"}, "title": "CXCL8", "width": 181, "height": 104, "mark": "line",
             "encoding": {
               "x": {"field": "t", "type": "quantitative", "title": "Time [h]", "scale": {"domain": [-7.2, 151.2], "nice": false}, "axis": {"values": [0, 25, 50, 75, 100, 125, 150], "labelExpr": "datum.value % 50 ? '' : datum.label"}},
               "y": {"field": "v", "type": "quantitative", "title": ["Gene expression", "[Z-score]"], "scale": {"domain": [-1.019, -0.09], "nice": false, "zero": false}, "axis": {"values": [-1, -0.875, -0.75, -0.625, -0.5, -0.375, -0.25, -0.125], "labelExpr": "abs(datum.value*4 - round(datum.value*4)) < 0.01 ? replace(format(datum.value, '.2f'), '\u2212', '-') : ''"}},
               "color": {"field": "rep", "type": "nominal", "title": "Replicate"},
               "strokeDash": {"field": "rep", "type": "nominal", "title": "Replicate"}
             }}
          ]
        }
      ]
    }
  ],
  "spacing": 163,
  "bounds": "flush",
  "resolve": {"scale": {"x": "independent", "y": "independent"}}
}
